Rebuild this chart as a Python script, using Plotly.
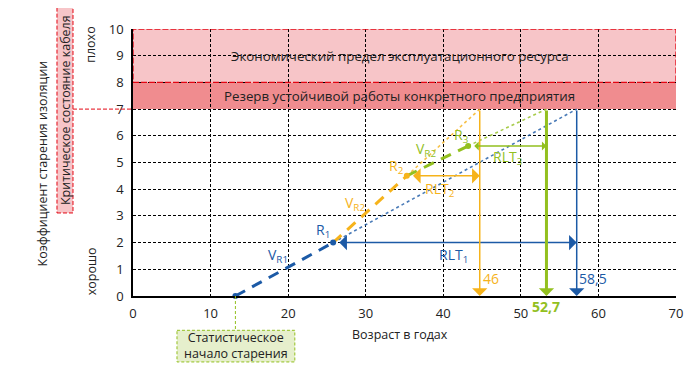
import plotly.graph_objects as go

# ---- data ----
start_age = 13.2
r_names = ["R1", "R2", "R3"]
r_ages = [25.8, 35.3, 43.2]
r_coefs = [2.0, 4.5, 5.62]
end_ages = [57.2, 44.7, 53.3]          # ages where forecast reaches critical level
end_labels = ["58,5", "46", "52,7"]
critical = 7
econ_limit = 8
y_max = 10
x_ticks = [0, 10, 20, 30, 40, 50, 60, 70]
y_ticks = [0, 1, 2, 3, 4, 5, 6, 7, 8, 9, 10]

BLUE = "#1c5aa6"
ORANGE = "#f6b31b"
GREEN = "#93c01f"
RED = "#e30613"
colors = [BLUE, ORANGE, GREEN]
FONT = "Open Sans"

fig = go.Figure()

# dashed measured segments and dotted forecasts
prev_x, prev_y = start_age, 0
for i in range(3):
    fig.add_trace(go.Scatter(x=[prev_x, r_ages[i]], y=[prev_y, r_coefs[i]], mode="lines",
                             line=dict(color=colors[i], width=3, dash="11px,8px"),
                             showlegend=False, hoverinfo="skip", cliponaxis=False))
    fig.add_trace(go.Scatter(x=[r_ages[i], end_ages[i]], y=[r_coefs[i], critical], mode="lines",
                             line=dict(color=colors[i], width=1.6, dash="dot"),
                             opacity=0.8, showlegend=False, hoverinfo="skip"))
    prev_x, prev_y = r_ages[i], r_coefs[i]

# dots
fig.add_trace(go.Scatter(x=[start_age, r_ages[0]], y=[0, r_coefs[0]], mode="markers",
                         marker=dict(color=BLUE, size=6), showlegend=False, cliponaxis=False))
fig.add_trace(go.Scatter(x=[r_ages[1]], y=[r_coefs[1]], mode="markers",
                         marker=dict(color=ORANGE, size=6), showlegend=False))
fig.add_trace(go.Scatter(x=[r_ages[2]], y=[r_coefs[2]], mode="markers",
                         marker=dict(color=GREEN, size=6), showlegend=False))

shapes = []
# bands
shapes.append(dict(type="rect", xref="x", yref="y", x0=0, x1=70, y0=econ_limit, y1=y_max,
                   fillcolor="#f7c5c8", line=dict(width=0), layer="below"))
shapes.append(dict(type="rect", xref="x", yref="y", x0=0, x1=70, y0=critical, y1=econ_limit,
                   fillcolor="#f08c8f", line=dict(width=0), layer="below"))
shapes.append(dict(type="rect", xref="x", yref="y", x0=0, x1=70, y0=econ_limit, y1=y_max,
                   fillcolor="rgba(0,0,0,0)", line=dict(color=RED, width=1.3, dash="6px,2px"),
                   layer="between"))
# red dashed line to the critical box
shapes.append(dict(type="line", xref="paper", yref="paper", x0=-0.1105, x1=0, y0=critical / y_max,
                   y1=critical / y_max, line=dict(color=RED, width=1, dash="4px,2px")))
shapes.append(dict(type="rect", xref="paper", yref="paper", x0=-0.14, x1=-0.1105, y0=0.311, y1=1.085,
                   fillcolor="#f7c5c8", line=dict(color=RED, width=1, dash="4px,2px")))
# green statistical start box
shapes.append(dict(type="line", xref="paper", yref="paper", x0=start_age / 70, x1=start_age / 70,
                   y0=0, y1=-0.1285, line=dict(color=GREEN, width=1, dash="3px,2px")))
shapes.append(dict(type="rect", xref="paper", yref="paper", x0=0.081, x1=0.298, y0=-0.1285, y1=-0.247,
                   fillcolor="#e6efcc", line=dict(color=GREEN, width=1, dash="3px,2px")))

annotations = []
# RLT horizontal double arrows
for i in range(3):
    w = 3 if i == 2 else 1.5
    annotations.append(dict(x=end_ages[i], y=r_coefs[i], ax=r_ages[i] + 0.6, ay=r_coefs[i],
                            xref="x", yref="y", axref="x", ayref="y", text="", showarrow=True,
                            arrowhead=1, startarrowhead=1, arrowside="end+start",
                            arrowsize=1.7 if i != 2 else 1.0, startarrowsize=1.7 if i != 2 else 1.0,
                            arrowwidth=1.5, arrowcolor=colors[i]))
    # vertical arrows to the age axis
    annotations.append(dict(x=end_ages[i], y=0, ax=end_ages[i], ay=critical,
                            xref="x", yref="y", axref="x", ayref="y", text="", showarrow=True,
                            arrowhead=1, arrowsize=1.7 if i != 2 else 0.85, arrowwidth=w,
                            arrowcolor=colors[i]))

def txt(x, y, t, color="#222", size=14, **kw):
    d = dict(x=x, y=y, xref="x", yref="y", text=t, showarrow=False,
             xanchor="center", yanchor="middle",
             font=dict(family=FONT, size=size, color=color))
    d.update(kw)
    annotations.append(d)

txt(34.4, 9, "Экономический предел эксплуатационного ресурса", size=13.3)
txt(34.4, 7.5, "Резерв устойчивой работы конкретного предприятия", size=13.3)
txt(18.7, 1.5, "V<sub>R1</sub>", BLUE)
txt(24.5, 2.45, "R<sub>1</sub>", BLUE)
txt(41.3, 1.5, "RLT<sub>1</sub>", BLUE)
txt(28.6, 3.45, "V<sub>R2</sub>", ORANGE)
txt(34.0, 4.85, "R<sub>2</sub>", ORANGE)
txt(39.6, 4.0, "RLT<sub>2</sub>", ORANGE)
txt(37.8, 5.5, "V<sub>R2</sub>", GREEN)
txt(42.4, 6.0, "R<sub>3</sub>", GREEN)
txt(48.3, 5.2, "RLT<sub>3</sub>", GREEN)
txt(end_ages[1] + 0.1, 0.65, end_labels[1], ORANGE, xanchor="left")
txt(end_ages[0] + 0.1, 0.65, end_labels[0], BLUE, xanchor="left")
txt(end_ages[2], -0.038, "<b>" + end_labels[2] + "</b>", GREEN, yref="paper")

def ptxt(x, y, t, size=13, angle=0, color="#222"):
    annotations.append(dict(x=x, y=y, xref="paper", yref="paper", text=t, showarrow=False,
                            xanchor="center", yanchor="middle", textangle=angle,
                            font=dict(family=FONT, size=size, color=color)))

ptxt((400 - 133) / 543, (296 - 335) / 270, "Возраст в годах", 12.5)
ptxt((236 - 133) / 543, (296 - 346.5) / 270, "Статистическое<br>начало старения", 12.5)
ptxt((42 - 133) / 543, (296 - 162) / 270, "Коэффициент старения изоляции", 12.5, -90)
ptxt((65 - 133) / 543, (296 - 108) / 270, "Критическое состояние кабеля", 12.5, -90)
ptxt((91 - 133) / 543, (296 - 42) / 270, "плохо", 12.5, -90)
ptxt((91 - 133) / 543, (296 - 271) / 270, "хорошо", 12.5, -90)

axis_common = dict(showgrid=True, gridcolor="#000", gridwidth=1, griddash="3px,2px",
                   zeroline=False, showline=True, linecolor="#000", linewidth=1.5,
                   ticks="outside", ticklen=5, tickcolor="rgba(0,0,0,0)",
                   tickfont=dict(family=FONT, size=13, color="#222"))

# page body has an 8px margin, so the figure is drawn offset by 8px
fig.update_layout(
    width=687, height=363,
    margin=dict(l=125, r=19, t=18, b=75),
    paper_bgcolor="white", plot_bgcolor="white",
    xaxis=dict(range=[0, 70], tickvals=x_ticks, **axis_common),
    yaxis=dict(range=[0, y_max], tickvals=y_ticks, **axis_common),
    shapes=shapes, annotations=annotations,
    showlegend=False,
)

fig.write_html("out.html")
